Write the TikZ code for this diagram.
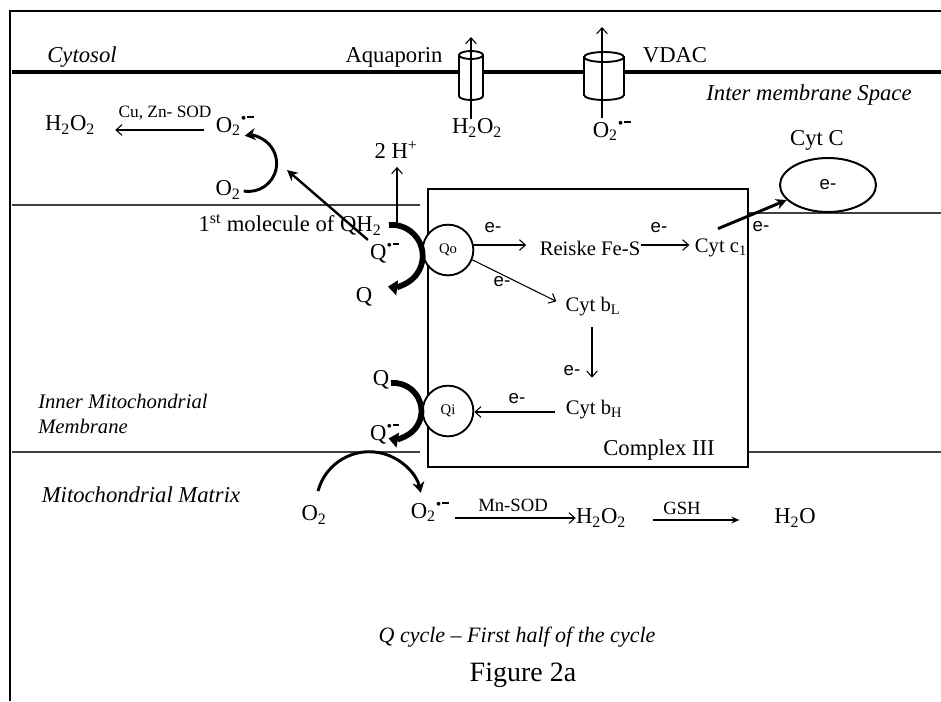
\documentclass[tikz,border=0pt]{standalone}
\usepackage{fontspec}
\setmainfont{Liberation Serif}
\newfontfamily\sansf{Liberation Sans}
\usetikzlibrary{arrows.meta,shapes.geometric}
\newcommand{\rad}{\textsuperscript{\textbullet\kern0.6pt\rule[0.8ex]{0.4em}{0.12em}}}
\begin{document}
\begin{tikzpicture}[x=0.75pt,y=-0.75pt]
\tikzset{
 lbl/.style={inner sep=0pt, font=\fontsize{17}{20}\selectfont},
 ilbl/.style={inner sep=0pt, font=\fontsize{17}{20}\selectfont\itshape},
 clbl/.style={inner sep=0pt, font=\fontsize{15.5}{18}\selectfont},
 sm/.style={inner sep=0pt, font=\fontsize{13}{15}\selectfont},
 elbl/.style={inner sep=0pt, font=\sansf\fontsize{14}{16}\selectfont},
 thinarr/.style={line width=0.8pt, -{Straight Barb[length=4.5pt,width=8pt]}},
 boldarr/.style={line width=4.3pt, -{Triangle[length=7pt,width=11pt]}},
 medarr/.style={line width=1.8pt, -{Stealth[length=8pt,width=8pt]}},
 memline/.style={line width=0.9pt, black!75},
 site/.style={circle, draw, line width=1.4pt, inner sep=0pt, minimum size=38pt, fill=white, font=\fontsize{11}{12}\selectfont},
 cyl/.style={line width=1.4pt, fill=white},
}
\useasboundingbox (0,0) rectangle (941,701);
\fill[white] (0,0) rectangle (941,701);
% frame
\draw[line width=1pt] (10,701) -- (10,11) -- (941,11);
% outer membrane
\draw[line width=2.4pt] (12,72) -- (941,72);
% inner membrane lines
\draw[memline] (12,205) -- (420,205);
\draw[memline] (12,452) -- (420,452);
\draw[memline] (748,213) -- (941,213);
\draw[memline] (748,452) -- (941,452);
% complex III box
\node[draw, line width=1.5pt, minimum width=240pt, minimum height=208.5pt, inner sep=0pt] (c3box) at (588,328) {};
\node[lbl] (complex) at (659,450) {Complex III};
% channels
\draw[cyl] (459,55) -- (459,96) arc[start angle=180, end angle=0, x radius=12, y radius=4] -- (483,55);
\draw[cyl] (471,55) ellipse [x radius=12, y radius=4];
\draw[cyl] (584,57) -- (584,95) arc[start angle=180, end angle=0, x radius=20, y radius=5] -- (624,57);
\draw[cyl] (604,57) ellipse [x radius=20, y radius=5];
% texts top
\node[ilbl] (cytosol) at (82,57) {Cytosol};
\node[lbl] (aqua) at (394,57) {Aquaporin};
\node[lbl] (vdac) at (675,55) {VDAC};
\node[ilbl] (ims) at (809,95) {Inter membrane Space};
\node[lbl] (h2o2c) at (70,125) {H\textsubscript{2}O\textsubscript{2}};
\node[sm] (cuzn) at (165,113) {Cu, Zn- SOD};
\node[lbl] (o2radc) at (235,126) {O\textsubscript{2}\rad};
\node[lbl] (o2c) at (228,190) {O\textsubscript{2}};
\node[lbl] (twoh) at (396,150) {2 H\textsuperscript{+}};
\node[lbl] (h2o2aq) at (477,128) {H\textsubscript{2}O\textsubscript{2}};
\node[lbl] (o2radv) at (612,131) {O\textsubscript{2}\rad};
\node[lbl] (cytclbl) at (817,140) {Cyt C};
\node[ellipse, draw, line width=1.5pt, minimum width=72pt, minimum height=40.5pt, inner sep=0pt, font=\sansf\fontsize{14}{16}\selectfont] (cytc) at (828,185) {e-};
% channel arrows
\coordinate (aqtop) at (471,37);
\coordinate (vdtop) at (602,27);
\draw[thinarr] (h2o2aq.north -| aqtop) -- (aqtop);
\draw[thinarr, shorten <=2pt] (o2radv.north -| vdtop) -- (vdtop);
% Cu,Zn SOD arrow
\draw[thinarr, shorten <=9pt, shorten >=15pt] (o2radc.west |- 0,130) -- (h2o2c.east |- 0,130);
% cytosolic superoxide arc
\draw[line width=2.2pt, -{Stealth[length=8pt,width=9pt]}] (o2c.east) ++(3,1) arc[start angle=100, end angle=-98, radius=28];
\coordinate (cytarc) at (287,170);
% Q sites
\node[site] (qo) at (448,250) {Qo};
\node[site] (qi) at (448,411) {Qi};
\node[lbl] (mol) at (290,225) {1\textsuperscript{st} molecule of QH\textsubscript{2}};
\node[lbl] (qrad1) at (385,253) {Q\rad};
\node[lbl] (q1) at (364,297) {Q};
\node[lbl] (q2) at (381,380) {Q};
\node[lbl] (qrad2) at (385,434) {Q\rad};
% thick Q arcs
\draw[boldarr] (389,225) arc[start angle=-95, end angle=97, radius=31];
\draw[boldarr] (391,383) arc[start angle=-95, end angle=100, radius=28];
% 2H+
\coordinate (hstart) at (397,224);
\draw[thinarr, shorten >=6pt] (hstart) -- (twoh.south -| hstart);
% diagonal from Q radical to O2 arc
\draw[medarr] (qrad1.north west) ++(-2,-3) -- (cytarc);
% complex III internal
\node[clbl] (reiske) at (590,248) {Reiske Fe-S};
\node[clbl] (cytc1) at (721,248) {Cyt c\textsubscript{1}};
\node[clbl] (cytbl) at (593,307) {Cyt b\textsubscript{L}};
\node[clbl] (cytbh) at (594,410) {Cyt b\textsubscript{H}};
\draw[thinarr, shorten >=10pt] (qo.east |- 0,245) -- (reiske.west |- 0,245);
\draw[thinarr, shorten >=4pt] (reiske.east |- 0,245) -- (cytc1.west |- 0,245);
\draw[thinarr] (qo.-22) -- ([shift={(-9,4)}]cytbl.north west);
\draw[thinarr, shorten <=8pt, shorten >=17pt] (cytbl.south -| 592,0) -- (cytbh.north -| 592,0);
\draw[thinarr, shorten <=8pt] (cytbh.west |- 0,412) -- (qi.east |- 0,412);
\node[elbl] (e1) at (493,228) {e-};
\node[elbl] (e2) at (659,228) {e-};
\node[elbl] (e3) at (502,282) {e-};
\node[elbl] (e4) at (572,371) {e-};
\node[elbl] (e5) at (517,399) {e-};
\node[elbl] (e6) at (761,227) {e-};
\draw[line width=2.2pt, -{Stealth[length=8pt,width=8pt]}] ([shift={(-3,-10)}]cytc1.north) -- (cytc.200);
% inner membrane label
\node[inner sep=0pt, anchor=west, align=left, font=\fontsize{15.5}{18.75}\selectfont\itshape] (imm) at (38,414) {Inner Mitochondrial\\Membrane};
% matrix
\node[ilbl] (mm) at (141,495) {Mitochondrial Matrix};
\node[lbl] (o2m) at (314,515) {O\textsubscript{2}};
\node[lbl] (o2radm) at (430,512) {O\textsubscript{2}\rad};
\node[sm, font=\fontsize{14}{16}\selectfont] (mnsod) at (513,505) {Mn-SOD};
\node[lbl] (h2o2m) at (601,518) {H\textsubscript{2}O\textsubscript{2}};
\node[sm, font=\fontsize{14}{16}\selectfont] (gsh) at (682,508) {GSH};
\node[lbl] (h2o) at (795,518) {H\textsubscript{2}O};
\coordinate (marcs) at (318,491);
\draw[line width=2.2pt, -{Stealth[length=8pt,width=9pt]}] (marcs) arc[start angle=-165, end angle=-13, radius=53];
\draw[thinarr, shorten <=4pt] (o2radm.east |- 0,518) -- (h2o2m.west |- 0,518);
\draw[line width=0.9pt, -{Stealth[length=6pt,width=5pt]}, shorten <=20pt, shorten >=26pt] (h2o2m.east |- 0,520) -- (h2o.west |- 0,520);
% caption
\node[inner sep=0pt, font=\fontsize{16.5}{19}\selectfont\itshape] (qcyc) at (517,637) {Q cycle -- First half of the cycle};
\node[inner sep=0pt, font=\fontsize{21}{24}\selectfont] (fig) at (523,675) {Figure 2a};
\end{tikzpicture}
\end{document}
